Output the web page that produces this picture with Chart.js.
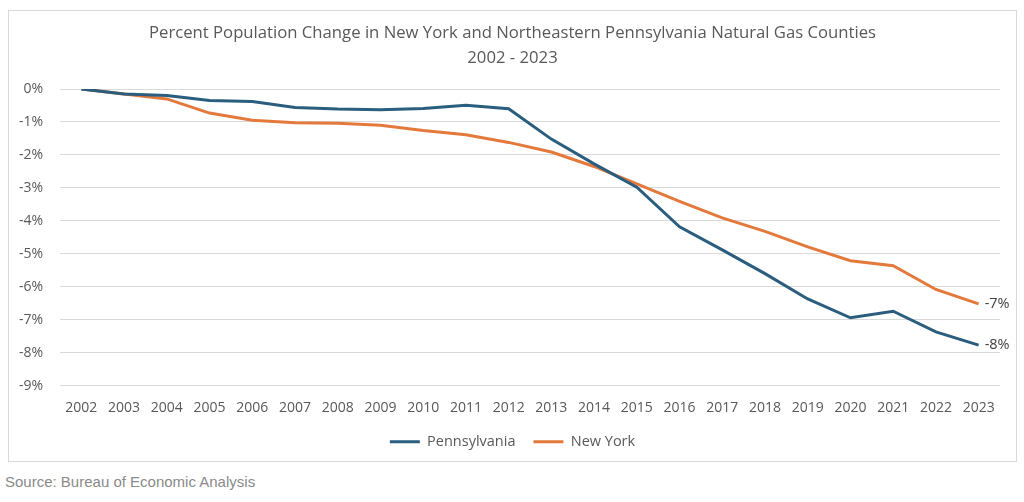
<!DOCTYPE html>
<html>
<head>
<meta charset="utf-8">
<script src="https://cdn.jsdelivr.net/npm/chart.js@4"></script>
<style>
  html, body { margin: 0; padding: 0; background: #fff; }
  body { width: 1024px; height: 502px; position: relative; overflow: hidden; }
  #box { position: absolute; left: 8px; top: 10px; width: 1007px; height: 450px; border: 1px solid #d9d9d9; }
  #source { position: absolute; left: 5px; top: 473px; font: 15px "Liberation Sans", Arial, sans-serif; color: #8a8a8a; }
</style>
</head>
<body>
<div id="box"><canvas id="popChart"></canvas></div>
<div id="source">Source: Bureau of Economic Analysis</div>
<script>
// Percent population change, natural gas counties
const years = ['2002', '2003', '2004', '2005', '2006', '2007', '2008', '2009', '2010', '2011', '2012',
               '2013', '2014', '2015', '2016', '2017', '2018', '2019', '2020', '2021', '2022', '2023'];
const pennsylvania = [0, -0.15, -0.2, -0.35, -0.38, -0.56, -0.61, -0.63, -0.59, -0.49, -0.6,
                      -1.52, -2.27, -2.98, -4.18, -4.88, -5.6, -6.37, -6.94, -6.74, -7.37, -7.77];
const newYork = [0, -0.15, -0.3, -0.73, -0.95, -1.02, -1.04, -1.1, -1.26, -1.39, -1.62,
                 -1.91, -2.35, -2.88, -3.41, -3.91, -4.32, -4.79, -5.21, -5.36, -6.08, -6.52];
const yTicks = [0, -1, -2, -3, -4, -5, -6, -7, -8, -9];

const FONT = '"Open Sans", sans-serif';

// label at the end of each line
const endLabels = {
    id: 'endLabels',
    afterDatasetsDraw(chart) {
        const ctx = chart.ctx;
        ctx.save();
        ctx.font = '14.5px ' + FONT;
        ctx.fillStyle = '#404040';
        ctx.textAlign = 'left';
        ctx.textBaseline = 'middle';
        chart.data.datasets.forEach((ds, i) => {
            const pts = chart.getDatasetMeta(i).data;
            const last = pts[pts.length - 1];
            const v = ds.data[ds.data.length - 1];
            ctx.fillText(Math.round(v) + '%', last.x + 6, last.y);
        });
        ctx.restore();
    }
};

const ctx = document.getElementById('popChart').getContext('2d');
new Chart(ctx, {
    type: 'line',
    data: {
        labels: years,
        datasets: [{
            label: 'Pennsylvania',
            data: pennsylvania,
            borderColor: '#2a5d7e',
            backgroundColor: '#2a5d7e',
            borderWidth: 3,
            pointRadius: 0,
            tension: 0
        }, {
            label: 'New York',
            data: newYork,
            borderColor: '#e4793c',
            backgroundColor: '#e4793c',
            borderWidth: 3,
            pointRadius: 0,
            tension: 0
        }]
    },
    options: {
        responsive: true,
        maintainAspectRatio: false,
        animation: false,
        layout: { padding: { left: 0, right: 0, top: 0, bottom: 2 } },
        plugins: {
            title: {
                display: true,
                text: ['Percent Population Change in New York and Northeastern Pennsylvania Natural Gas Counties', '2002 - 2023'],
                color: '#595959',
                font: { family: FONT, size: 16.7, weight: 'normal', lineHeight: '25px' },
                padding: { top: 9.5, bottom: 18.5 }
            },
            legend: {
                position: 'bottom',
                labels: {
                    color: '#595959',
                    font: { family: FONT, size: 14.5 },
                    usePointStyle: true,
                    pointStyle: 'line',
                    pointStyleWidth: 30,
                    padding: 18
                }
            },
            tooltip: { enabled: false }
        },
        scales: {
            x: {
                offset: true,
                afterFit(scale) { scale.height -= 14; },
                grid: { display: false, drawTicks: false },
                border: { display: false },
                ticks: { color: '#595959', font: { family: FONT, size: 14 }, padding: 14, maxRotation: 0, autoSkip: false }
            },
            y: {
                min: -9,
                max: 0,
                afterBuildTicks(scale) {
                    scale.ticks = yTicks.map(v => ({ value: v }));
                },
                afterFit(scale) { scale.width = 51; },
                grid: { color: '#d9d9d9', lineWidth: 1, drawTicks: false },
                border: { display: false },
                ticks: {
                    color: '#595959',
                    font: { family: FONT, size: 14 },
                    padding: 17,
                    callback: v => (v === 0 ? 0 : v) + '%'
                }
            },
            // empty right-hand gutter so title and legend stay centred on the whole box
            yRight: {
                position: 'right',
                afterFit(scale) { scale.width = 16; },
                grid: { display: false, drawTicks: false },
                border: { display: false },
                ticks: { display: false }
            }
        }
    },
    plugins: [endLabels]
});
</script>
</body>
</html>
